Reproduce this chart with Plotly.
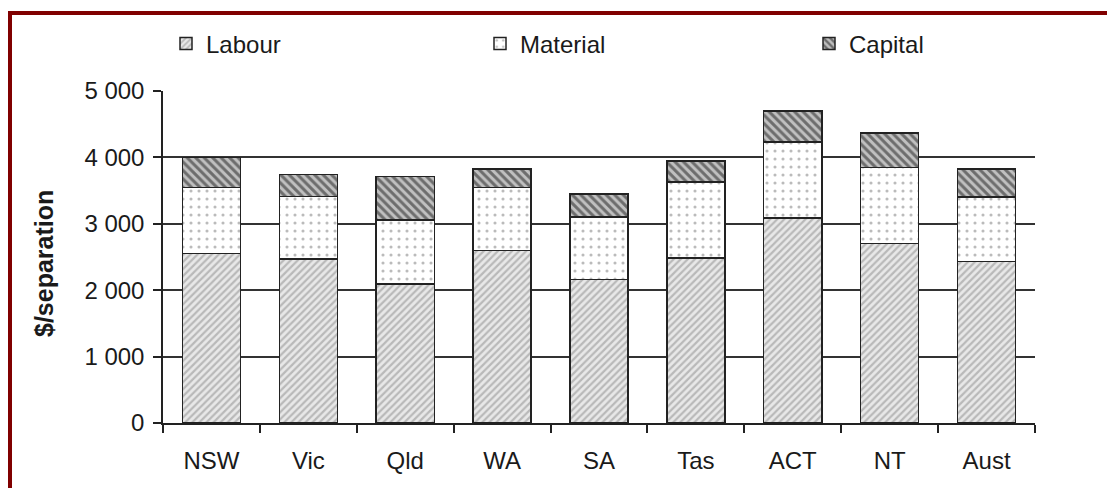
import plotly.graph_objects as go

categories = ["NSW", "Vic", "Qld", "WA", "SA", "Tas", "ACT", "NT", "Aust"]
labour = [2550, 2470, 2090, 2600, 2160, 2485, 3090, 2700, 2435]
material = [1000, 940, 970, 950, 940, 1145, 1145, 1150, 970]
capital = [450, 330, 650, 275, 350, 315, 465, 520, 420]
y_ticks = [0, 1000, 2000, 3000, 4000, 5000]
y_tick_labels = ["0", "1 000", "2 000", "3 000", "4 000", "5 000"]

FONT = "Liberation Sans, Arial, sans-serif"
TXT = "#1a1a1a"

fig = go.Figure()
fig.add_trace(go.Bar(
    name="Labour", x=categories, y=labour, legend="legend",
    marker=dict(color="#e8e8e8", line=dict(color="#222", width=1.5),
                pattern=dict(shape="/", fgcolor="#8a8a8a", bgcolor="#e8e8e8", size=5, solidity=0.45)),
))
fig.add_trace(go.Bar(
    name="Material", x=categories, y=material, legend="legend2",
    marker=dict(color="white", line=dict(color="#222", width=1.5),
                pattern=dict(shape=".", fgcolor="#777", bgcolor="white", size=8, solidity=0.12)),
))
fig.add_trace(go.Bar(
    name="Capital", x=categories, y=capital, legend="legend3",
    marker=dict(color="#bbbbbb", line=dict(color="#222", width=1.5),
                pattern=dict(shape="\\", fgcolor="#1a1a1a", bgcolor="#c0c0c0", size=6, solidity=0.5)),
))

# page has an 8px body margin; figure coords = page coords - 8
OFF = 8
FW, FH = 1115 - OFF, 488 - OFF
L, R, T, B = 163 - OFF, 1035 - OFF, 91 - OFF, 423 - OFF
W, H = R - L, B - T
def px_x(p):
    return (p - OFF - L) / W
def px_y(p):
    return (B - (p - OFF)) / H

def leg(xpage):
    return dict(
        orientation="h", x=px_x(xpage), y=px_y(44), xanchor="left", yanchor="middle",
        font=dict(size=24, color=TXT), itemwidth=30, bgcolor="rgba(0,0,0,0)",
    )

fig.update_layout(
    barmode="stack",
    bargap=0.4,
    width=FW, height=FH,
    margin=dict(l=L, r=FW - R, t=T, b=FH - B, pad=0, autoexpand=False),
    paper_bgcolor="white", plot_bgcolor="white",
    font=dict(family=FONT, size=24, color=TXT),
    showlegend=True,
    legend=leg(166),
    legend2=leg(480),
    legend3=leg(809),
    xaxis=dict(
        type="category", showline=True, linecolor="#222", linewidth=1.5,
        ticks="outside", tickson="boundaries", ticklen=8, tickcolor="#222", tickwidth=1.5,
        showgrid=False, tickfont=dict(size=24, color=TXT), ticklabelstandoff=15,
    ),
    yaxis=dict(
        range=[0, 5000], tickvals=y_ticks, ticktext=y_tick_labels,
        showline=True, linecolor="#222", linewidth=1.5,
        ticks="outside", ticklen=8, tickcolor="#222", tickwidth=1.5,
        showgrid=True, gridcolor="#333", gridwidth=1.5,
        tickfont=dict(size=24, color=TXT), zeroline=False, ticklabelstandoff=4,
    ),
    annotations=[dict(
        text="<b>$/separation</b>", textangle=-90, showarrow=False,
        xref="paper", yref="paper", x=px_x(44), y=px_y(264),
        xanchor="center", yanchor="middle", font=dict(size=25, color=TXT, family=FONT),
    )],
    shapes=[
        dict(type="line", xref="paper", yref="paper", x0=px_x(8), x1=px_x(1115),
             y0=px_y(13), y1=px_y(13), line=dict(color="#800000", width=4)),
        dict(type="line", xref="paper", yref="paper", x0=px_x(10), x1=px_x(10),
             y0=px_y(11), y1=px_y(490), line=dict(color="#800000", width=4)),
    ],
)

fig.write_html("out.html")
